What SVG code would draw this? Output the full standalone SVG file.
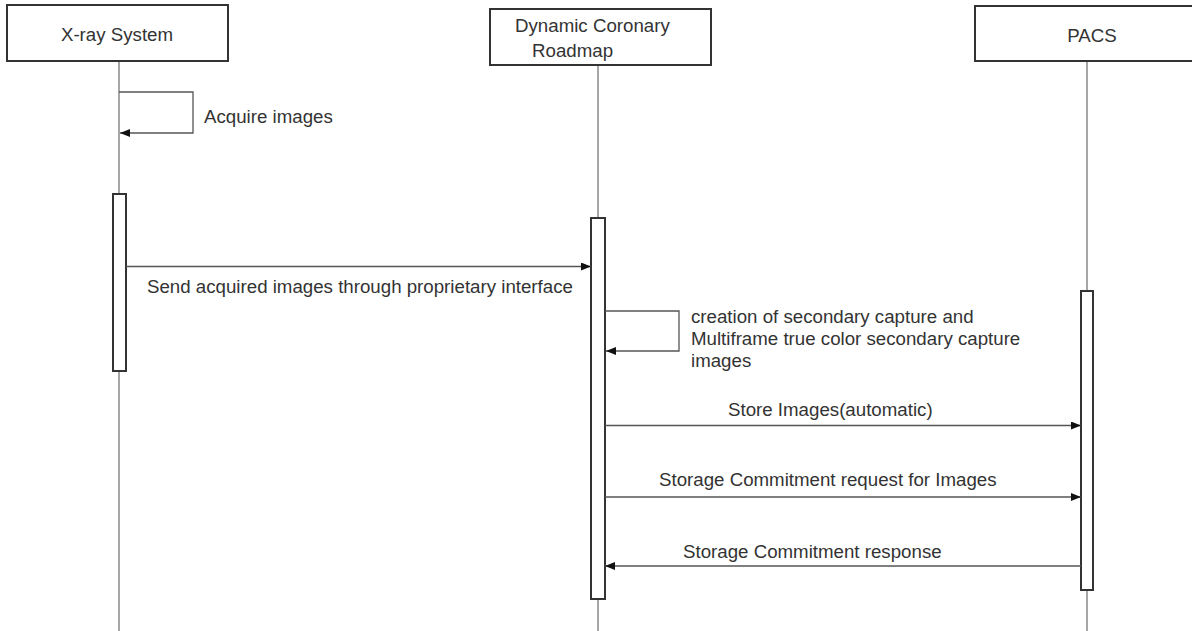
<svg xmlns="http://www.w3.org/2000/svg" width="1192" height="631" viewBox="0 0 1192 631">
<style>
.box{fill:#fff;stroke:#333;stroke-width:2}
.life{stroke:#888;stroke-width:1.5;fill:none}
.act{fill:#fff;stroke:#333;stroke-width:2}
.msg{stroke:#555;stroke-width:1.3;fill:none}
text{font-family:"Liberation Sans",Arial,sans-serif;font-size:18.7px;fill:#333}
</style>
<defs>
<marker id="ah" markerWidth="10" markerHeight="8" refX="10" refY="4" orient="auto" markerUnits="userSpaceOnUse">
<path d="M0,0 L10,4 L0,8 Z" fill="#111"/>
</marker>
</defs>
<rect width="1192" height="631" fill="#fff"/>
<g id="lifelines">
<line class="life" x1="119" y1="61" x2="119" y2="631"/>
<line class="life" x1="598" y1="65" x2="598" y2="631"/>
<line class="life" x1="1087" y1="61" x2="1087" y2="631"/>
</g>
<g id="xray">
<rect class="box" x="7" y="5" width="221" height="56"/>
<text x="117" y="41" text-anchor="middle">X-ray System</text>
</g>
<g id="dcr">
<rect class="box" x="490" y="9" width="221" height="56"/>
<text x="515" y="32">Dynamic Coronary</text>
<text x="532" y="57">Roadmap</text>
</g>
<g id="pacs">
<rect class="box" x="975" y="6" width="225" height="55"/>
<text x="1092" y="42" text-anchor="middle">PACS</text>
</g>
<g id="activations">
<rect class="act" x="113" y="194" width="13" height="177"/>
<rect class="act" x="591" y="218" width="14" height="381"/>
<rect class="act" x="1081" y="291" width="12" height="299"/>
</g>
<g id="connectors">
<path class="msg" d="M119,92 H193 V133 H120" marker-end="url(#ah)"/>
<line class="msg" x1="126" y1="266.5" x2="591" y2="266.5" marker-end="url(#ah)"/>
<path class="msg" d="M605,311 H679 V351 H606" marker-end="url(#ah)"/>
<line class="msg" x1="605" y1="425.5" x2="1081" y2="425.5" marker-end="url(#ah)"/>
<line class="msg" x1="605" y1="497" x2="1081" y2="497" marker-end="url(#ah)"/>
<line class="msg" x1="1081" y1="566" x2="605" y2="566" marker-end="url(#ah)"/>
</g>
<g id="labels">
<text x="204" y="123">Acquire images</text>
<text x="147" y="293">Send acquired images through proprietary interface</text>
<text x="691" y="323">creation of secondary capture and</text>
<text x="691" y="345">Multiframe true color secondary capture</text>
<text x="691" y="367">images</text>
<text x="728" y="416">Store Images(automatic)</text>
<text x="659" y="486">Storage Commitment request for Images</text>
<text x="683" y="558">Storage Commitment response</text>
</g>
</svg>
